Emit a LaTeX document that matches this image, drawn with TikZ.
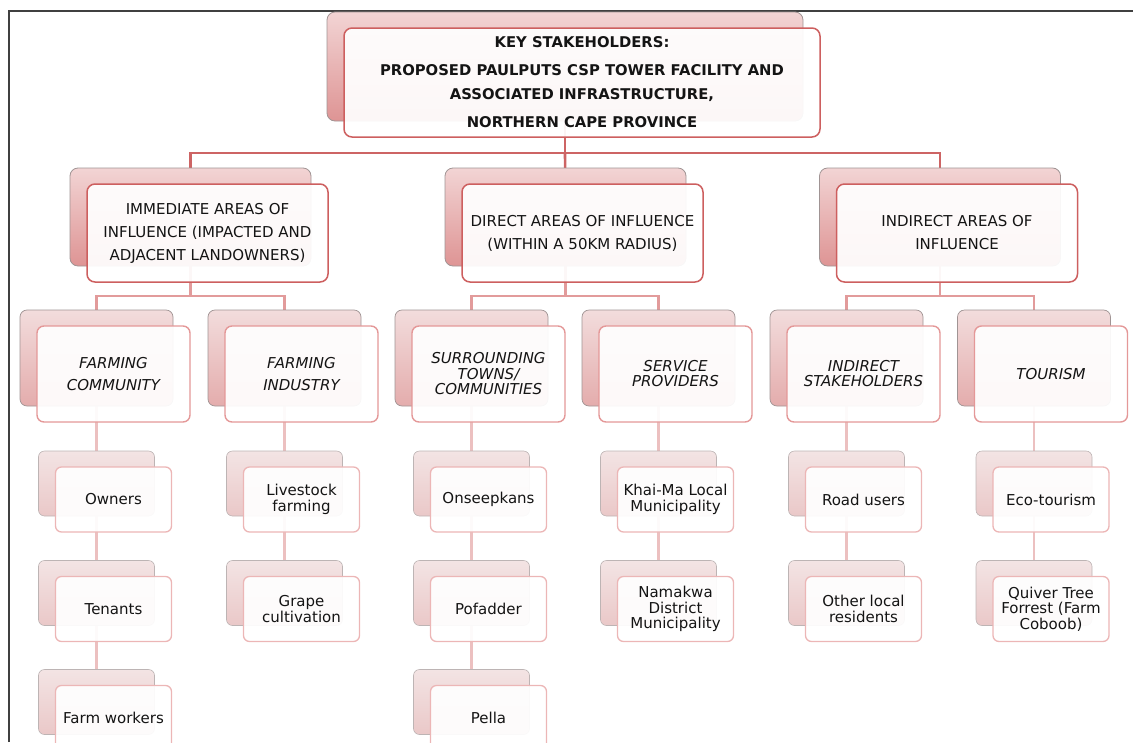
\documentclass[tikz,border=0pt]{standalone}
\usepackage{fontspec}
\setmainfont{DejaVu Sans}
\pgfdeclarelayer{background}
\pgfsetlayers{background,main}
\definecolor{conA}{RGB}{205,100,100}
\definecolor{conB}{RGB}{226,155,155}
\definecolor{conC}{RGB}{236,192,192}
\definecolor{edgeA}{RGB}{205,95,95}
\definecolor{edgeB}{RGB}{228,152,152}
\definecolor{edgeC}{RGB}{236,182,182}
\definecolor{backTopA}{RGB}{242,212,212}
\definecolor{backBotA}{RGB}{222,148,148}
\definecolor{backTopB}{RGB}{242,220,220}
\definecolor{backBotB}{RGB}{228,172,172}
\definecolor{backTopC}{RGB}{243,228,228}
\definecolor{backBotC}{RGB}{234,200,200}
\definecolor{backEdge}{RGB}{160,148,148}
\definecolor{txt}{RGB}{20,20,20}
\definecolor{framecol}{RGB}{64,64,64}
\tikzset{
  x=1pt, y=-1pt,
  boxbase/.style={inner sep=0pt, outer sep=0pt, align=center, text=txt},
  backA/.style={boxbase, rounded corners=8pt, top color=backTopA, bottom color=backBotA, draw=backEdge, line width=0.8pt},
  backB/.style={boxbase, rounded corners=7pt, top color=backTopB, bottom color=backBotB, draw=backEdge, line width=0.7pt},
  backC/.style={boxbase, rounded corners=6pt, top color=backTopC, bottom color=backBotC, draw=backEdge!70, line width=0.6pt},
  frontA/.style={boxbase, rounded corners=8pt, fill=white, fill opacity=0.93, text opacity=1, draw=edgeA, draw opacity=1, line width=1.5pt},
  frontB/.style={boxbase, rounded corners=7pt, fill=white, fill opacity=0.93, text opacity=1, draw=edgeB, draw opacity=1, line width=1.4pt},
  frontC/.style={boxbase, rounded corners=6pt, fill=white, fill opacity=0.93, text opacity=1, draw=edgeC, draw opacity=1, line width=1.3pt},
  fontTop/.style={font=\bfseries\fontsize{14.8}{24}\selectfont},
  fontMid/.style={font=\fontsize{15}{23}\selectfont},
  fontIt/.style={font=\itshape\fontsize{15}{#1}\selectfont},
  fontLow/.style={font=\fontsize{15}{15.5}\selectfont},
  lineA/.style={draw=conA, line width=2.6pt},
  lineB/.style={draw=conB, line width=2.6pt},
  lineC/.style={draw=conC, line width=2.6pt},
}
% #1 name, #2 x, #3 y, #4 width, #5 height, #6 level letter, #7 font style, #8 text
\newcommand\pairbox[8]{%
  \node[back#6, minimum width=#4pt, minimum height=#5pt] (b#1) at (#2-17,#3-16) {};
  \node[front#6, minimum width=#4pt, minimum height=#5pt, #7] (f#1) at (#2,#3) {#8};
}
\begin{document}
\begin{tikzpicture}
\useasboundingbox (0,0) rectangle (1133,742);
\draw[framecol, line width=2pt] (9,742) -- (9,11) -- (1133,11);

% level 1
\pairbox{T}{582}{82.5}{476}{109}{A}{fontTop}{KEY STAKEHOLDERS:\\[4pt]PROPOSED PAULPUTS CSP TOWER FACILITY AND\\ASSOCIATED INFRASTRUCTURE,\\[4pt]NORTHERN CAPE PROVINCE}

% level 2
\pairbox{L}{207.5}{233}{241}{98}{A}{fontMid}{IMMEDIATE AREAS OF\\INFLUENCE (IMPACTED AND\\ADJACENT LANDOWNERS)}
\pairbox{M}{582.5}{233}{241}{98}{A}{fontMid}{DIRECT AREAS OF INFLUENCE\\(WITHIN A 50KM RADIUS)}
\pairbox{R}{957}{233}{241}{98}{A}{fontMid}{INDIRECT AREAS OF\\INFLUENCE}

% level 3
\pairbox{c1}{113.5}{374}{153}{96}{B}{fontIt=22.5}{FARMING\\COMMUNITY}
\pairbox{c2}{301.5}{374}{153}{96}{B}{fontIt=22.5}{FARMING\\INDUSTRY}
\pairbox{c3}{488.5}{374}{153}{96}{B}{fontIt=15.5}{SURROUNDING\\TOWNS/\\COMMUNITIES}
\pairbox{c4}{675.5}{374}{153}{96}{B}{fontIt=15}{SERVICE\\PROVIDERS}
\pairbox{c5}{863.5}{374}{153}{96}{B}{fontIt=15}{INDIRECT\\STAKEHOLDERS}
\pairbox{c6}{1051}{374}{153}{96}{B}{fontIt=15}{TOURISM}

% level 4
\pairbox{ow}{113.5}{499.5}{116}{65}{C}{fontLow}{Owners}
\pairbox{te}{113.5}{609}{116}{65}{C}{fontLow}{Tenants}
\pairbox{fw}{113.5}{718}{116}{65}{C}{fontLow}{Farm workers}
\pairbox{li}{301.5}{499.5}{116}{65}{C}{fontLow}{Livestock\\farming}
\pairbox{gr}{301.5}{609}{116}{65}{C}{fontLow}{Grape\\cultivation}
\pairbox{on}{488.5}{499.5}{116}{65}{C}{fontLow}{Onseepkans}
\pairbox{po}{488.5}{609}{116}{65}{C}{fontLow}{Pofadder}
\pairbox{pe}{488.5}{718}{116}{65}{C}{fontLow}{Pella}
\pairbox{kh}{675.5}{499.5}{116}{65}{C}{fontLow}{Khai-Ma Local\\Municipality}
\pairbox{na}{675.5}{609}{116}{65}{C}{fontLow}{Namakwa\\District\\Municipality}
\pairbox{ro}{863.5}{499.5}{116}{65}{C}{fontLow}{Road users}
\pairbox{ot}{863.5}{609}{116}{65}{C}{fontLow}{Other local\\residents}
\pairbox{ec}{1051}{499.5}{116}{65}{C}{fontLow}{Eco-tourism}
\pairbox{qu}{1051}{609}{116}{65}{C}{fontLow}{Quiver Tree\\Forrest (Farm\\Coboob)}

% junctions
\coordinate (j1) at (565,153);
\coordinate (jL) at (190.5,296);
\coordinate (jM) at (565.5,296);
\coordinate (jR) at (940,296);

\begin{pgfonlayer}{background}
\draw[lineA] (bT.center) -- (j1);
\draw[lineA] (bL.center) |- (j1) -| (bR.center);
\draw[lineA] (j1) -- (bM.center);
\draw[lineB] (bL.center) -- (jL);
\draw[lineB] (bc1.center) |- (jL) -| (bc2.center);
\draw[lineB] (bM.center) -- (jM);
\draw[lineB] (bc3.center) |- (jM) -| (bc4.center);
\draw[lineB] (bR.center) -- (jR);
\draw[lineB] (bc5.center) |- (jR) -| (bc6.center);
\draw[lineC] (bc1.center) -- (bow.center) -- (bte.center) -- (bfw.center);
\draw[lineC] (bc2.center) -- (bli.center) -- (bgr.center);
\draw[lineC] (bc3.center) -- (bon.center) -- (bpo.center) -- (bpe.center);
\draw[lineC] (bc4.center) -- (bkh.center) -- (bna.center);
\draw[lineC] (bc5.center) -- (bro.center) -- (bot.center);
\draw[lineC] (bc6.center) -- (bec.center) -- (bqu.center);
\end{pgfonlayer}
\end{tikzpicture}
\end{document}
